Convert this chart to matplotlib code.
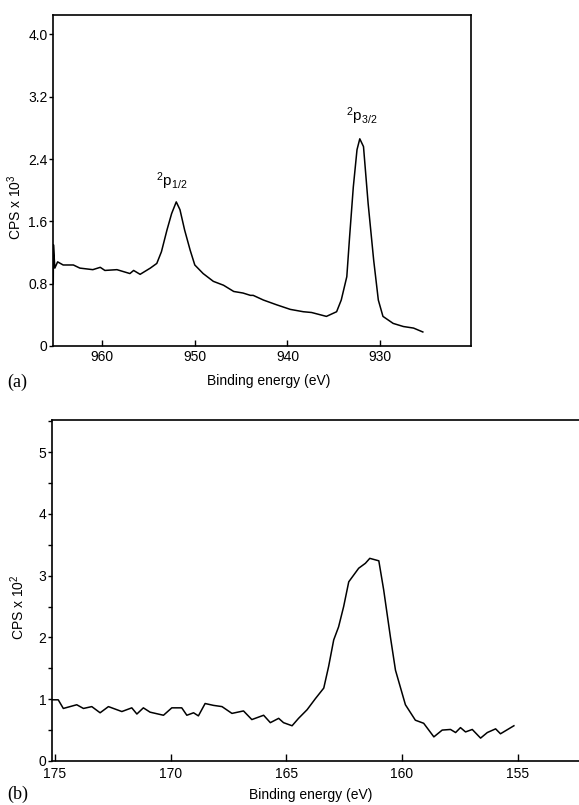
import matplotlib
matplotlib.use("Agg")
import matplotlib.pyplot as plt
from matplotlib.ticker import MultipleLocator

plt.rcParams['font.family'] = ['Liberation Sans Narrow', 'Liberation Sans', 'DejaVu Sans']
plt.rcParams['mathtext.default'] = 'regular'

# Panel (a): Cu 2p region
a_energy = [965.27, 965.25, 965.1, 964.8, 964.2, 963.1, 962.4, 961.0, 960.2, 959.7,
            958.4, 957.0, 956.6, 955.9, 954.8, 954.1, 953.6, 953.0, 952.5, 952.0,
            951.6, 951.1, 950.5, 950.0, 949.1, 948.0, 946.9, 945.8, 944.8, 944.0,
            943.7, 942.6, 941.2, 939.7, 938.3, 937.4, 935.8, 934.7, 934.2, 933.6,
            933.3, 932.9, 932.5, 932.2, 931.8, 931.3, 930.7, 930.2, 929.7, 928.6,
            927.5, 926.4, 925.4]
a_cps = [0.80, 1.30, 1.00, 1.08, 1.04, 1.04, 1.00, 0.98, 1.01, 0.97,
         0.98, 0.93, 0.97, 0.92, 1.00, 1.06, 1.21, 1.49, 1.70, 1.85,
         1.75, 1.49, 1.23, 1.04, 0.93, 0.83, 0.78, 0.70, 0.68, 0.65,
         0.65, 0.59, 0.53, 0.47, 0.44, 0.43, 0.38, 0.44, 0.59, 0.89,
         1.40, 2.04, 2.52, 2.66, 2.56, 1.83, 1.10, 0.59, 0.38, 0.29,
         0.25, 0.23, 0.18]

# Panel (b): S 2p region
b_energy = [175.12, 174.86, 174.64, 174.35, 174.06, 173.77, 173.41, 173.05, 172.69, 172.11,
            171.68, 171.46, 171.18, 170.89, 170.31, 169.95, 169.52, 169.30, 169.01, 168.80,
            168.51, 168.15, 167.78, 167.35, 166.85, 166.49, 165.98, 165.69, 165.33, 165.12,
            164.75, 164.47, 164.10, 163.74, 163.38, 163.17, 162.95, 162.74, 162.52, 162.30,
            161.87, 161.58, 161.39, 161.00, 160.79, 160.50, 160.28, 159.85, 159.42, 159.06,
            158.62, 158.26, 157.90, 157.68, 157.47, 157.25, 156.96, 156.60, 156.31, 155.95,
            155.74, 155.16]
b_cps = [0.99, 0.99, 0.85, 0.88, 0.91, 0.85, 0.88, 0.78, 0.88, 0.80,
         0.86, 0.76, 0.86, 0.79, 0.74, 0.86, 0.86, 0.74, 0.78, 0.73,
         0.93, 0.90, 0.88, 0.77, 0.81, 0.67, 0.74, 0.62, 0.69, 0.62,
         0.57, 0.69, 0.83, 1.01, 1.18, 1.53, 1.96, 2.17, 2.50, 2.90,
         3.12, 3.20, 3.28, 3.24, 2.77, 2.01, 1.47, 0.91, 0.66, 0.61,
         0.39, 0.50, 0.51, 0.46, 0.54, 0.47, 0.51, 0.37, 0.46, 0.52,
         0.44, 0.57]

a_yticks = [0, 0.8, 1.6, 2.4, 3.2, 4.0]
a_yticklabels = ['0', '0.8', '1.6', '2.4', '3.2', '4.0']
a_xticks = [960, 950, 940, 930]
b_yticks = [0, 1, 2, 3, 4, 5]
b_xticks = [175, 170, 165, 160, 155]

fig = plt.figure(figsize=(5.79, 8.05), dpi=100)

# ---- panel (a)
ax1 = fig.add_axes([0.0915, 0.5702, 0.722, 0.4112])
ax1.plot(a_energy, a_cps, color='black', lw=1.1)
ax1.set_xlim(965.3, 920.2)
ax1.set_ylim(0, 4.25)
ax1.set_yticks(a_yticks)
ax1.set_yticklabels(a_yticklabels)
ax1.set_xticks(a_xticks)
ax1.tick_params(axis='x', direction='in', length=4, width=1, labelsize=10, pad=3)
ax1.tick_params(axis='y', direction='out', length=3, width=1, labelsize=10, pad=1)
for s in ax1.spines.values():
    s.set_linewidth(1.2)
ax1.set_ylabel(r'CPS x 10$^{3}$', fontsize=10)
ax1.yaxis.set_label_coords(-0.069, 0.42)
ax1.set_xlabel('Binding energy (eV)', fontsize=10)
ax1.xaxis.set_label_coords(0.515, -0.085)
ax1.text(952.5, 1.98, r'$^{2}$p$_{1/2}$', ha='center', va='bottom', fontsize=11)
ax1.text(932.0, 2.81, r'$^{2}$p$_{3/2}$', ha='center', va='bottom', fontsize=11)
fig.text(0.012, 1 - 382 / 805, '(a)', family='Liberation Serif', fontsize=13, va='center')

# ---- panel (b)
ax2 = fig.add_axes([0.0898, 0.0547, 0.912, 0.4236])
ax2.plot(b_energy, b_cps, color='black', lw=1.1)
ax2.set_xlim(175.13, 152.3)
ax2.set_ylim(0, 5.52)
ax2.set_yticks(b_yticks)
ax2.yaxis.set_minor_locator(MultipleLocator(0.5))
ax2.set_xticks(b_xticks)
ax2.tick_params(axis='x', direction='in', length=5, width=1, labelsize=10, pad=4)
ax2.tick_params(axis='y', which='both', direction='out', length=3, width=1, labelsize=10, pad=1)
ax2.spines['right'].set_visible(False)
for s in ['left', 'top', 'bottom']:
    ax2.spines[s].set_linewidth(1.2)
ax2.set_ylabel(r'CPS x 10$^{2}$', fontsize=10)
ax2.yaxis.set_label_coords(-0.047, 0.45)
ax2.set_xlabel('Binding energy (eV)', fontsize=10)
ax2.xaxis.set_label_coords(0.489, -0.08)
fig.text(0.012, 1 - 794 / 805, '(b)', family='Liberation Serif', fontsize=13, va='center')

fig.savefig('out.png', dpi=100)
